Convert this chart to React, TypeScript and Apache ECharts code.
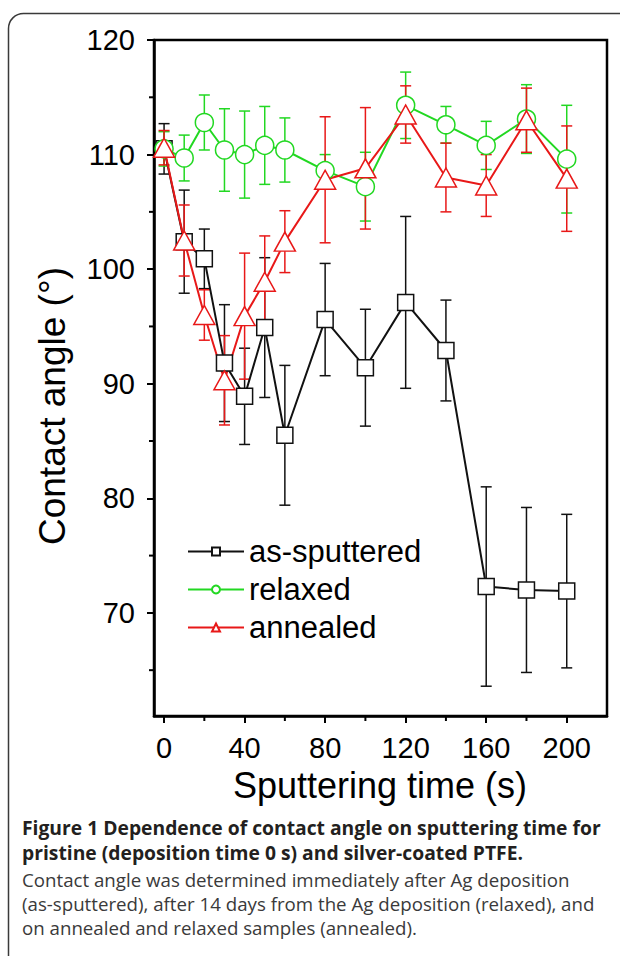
import React, { useEffect, useRef } from "react";
import * as echarts from "echarts";

const times = [0, 10, 20, 30, 40, 50, 60, 80, 100, 120, 140, 160, 180, 200];

const asSputtered = [110.5, 102.4, 100.9, 91.8, 88.9, 94.9, 85.5, 95.6, 91.4, 97.1, 92.9, 72.3, 72.0, 71.9];
const asSputteredErr = [2.2, 4.5, 2.6, 5.1, 4.2, 6.1, 6.1, 4.9, 5.1, 7.5, 4.4, 8.7, 7.2, 6.7];

const relaxed = [110.5, 109.7, 112.8, 110.4, 110.0, 110.8, 110.4, 108.6, 107.2, 114.3, 112.6, 110.8, 113.1, 109.6];
const relaxedErr = [1.5, 2.0, 2.4, 3.6, 3.8, 3.4, 2.8, 1.4, 3.0, 2.9, 1.6, 2.1, 3.0, 4.7];

const annealed = [110.6, 102.5, 96.0, 90.3, 95.9, 98.9, 102.4, 107.8, 108.8, 113.5, 108.0, 107.3, 113.0, 107.9];
const annealedErr = [1.5, 3.1, 2.2, 3.9, 5.5, 4.0, 2.7, 5.5, 5.3, 2.5, 3.0, 2.7, 2.8, 4.6];

const seriesNames = ["as-sputtered", "relaxed", "annealed"];

const X_MIN = -5;
const X_MAX = 220;
const Y_MIN = 61;
const Y_MAX = 120;
const xMajorTicks = [0, 40, 80, 120, 160, 200];
const xMinorTicks = [20, 60, 100, 140, 180];
const yMajorTicks = [70, 80, 90, 100, 110, 120];
const yMinorTicks = [65, 75, 85, 95, 105, 115];

const xTitle = "Sputtering time (s)";
const yTitle = "Contact angle (°)";

const captionBold = [
  "Figure 1 Dependence of contact angle on sputtering time for",
  "pristine (deposition time 0 s) and silver-coated PTFE.",
];
const captionBody = [
  "Contact angle was determined immediately after Ag deposition",
  "(as-sputtered), after 14 days from the Ag deposition (relaxed), and",
  "on annealed and relaxed samples (annealed).",
];

const FONT = "'Liberation Sans', Arial, sans-serif";
const CAP_FONT = "'Open Sans', 'Noto Sans', sans-serif";

function errorSeries(name: string, values: number[], errs: number[], color: string) {
  return {
    type: "custom",
    name: name + " error",
    xAxisIndex: 0,
    yAxisIndex: 0,
    silent: true,
    z: 1,
    data: times.map((t, i) => [t, values[i] - errs[i], values[i] + errs[i]]),
    encode: { x: 0, y: [1, 2] },
    renderItem: (params: any, api: any) => {
      const x = api.value(0);
      const lo = api.coord([x, api.value(1)]);
      const hi = api.coord([x, api.value(2)]);
      const w = 5.5;
      const st = { stroke: color, lineWidth: 1.5 };
      return {
        type: "group",
        children: [
          { type: "line", shape: { x1: lo[0], y1: lo[1], x2: hi[0], y2: hi[1] }, style: st },
          { type: "line", shape: { x1: lo[0] - w, y1: lo[1], x2: lo[0] + w, y2: lo[1] }, style: st },
          { type: "line", shape: { x1: hi[0] - w, y1: hi[1], x2: hi[0] + w, y2: hi[1] }, style: st },
        ],
      };
    },
  };
}

function minorTickSeries(axis: "x" | "y", values: number[]) {
  return {
    type: "custom",
    name: axis + " minor ticks",
    silent: true,
    clip: false,
    z: 5,
    data: values.map((v) => (axis === "x" ? [v, Y_MIN] : [X_MIN, v])),
    encode: { x: 0, y: 1 },
    renderItem: (params: any, api: any) => {
      const p = api.coord([api.value(0), api.value(1)]);
      const shape =
        axis === "x"
          ? { x1: p[0], y1: p[1], x2: p[0], y2: p[1] + 5 }
          : { x1: p[0] - 5, y1: p[1], x2: p[0], y2: p[1] };
      return { type: "line", shape, style: { stroke: "#000", lineWidth: 2 } };
    },
  };
}

function lineSeries(name: string, values: number[], color: string, symbol: string, size: any) {
  return {
    type: "line",
    name,
    xAxisIndex: 0,
    yAxisIndex: 0,
    z: 3,
    data: times.map((t, i) => [t, values[i]]),
    symbol,
    symbolSize: size,
    showAllSymbol: true,
    lineStyle: { color, width: 2 },
    itemStyle: { color: "#fff", borderColor: color, borderWidth: 1.5 },
  };
}

export default function App() {
  const ref = useRef<HTMLDivElement>(null);

  useEffect(() => {
    document.body.style.margin = "0";
    if (!ref.current) return;
    const chart = echarts.init(ref.current, null, { renderer: "svg" });
    const black = "#111";
    const green = "#22d822";
    const red = "#e81818";

    const graphics: any[] = [
      {
        type: "rect",
        shape: { x: 8.5, y: 13.5, width: 660, height: 1000, r: 15 },
        style: { fill: "none", stroke: "#3a3a3a", lineWidth: 1.5 },
        silent: true,
      },
      {
        type: "text",
        x: 52,
        y: 406,
        rotation: Math.PI / 2,
        style: { text: yTitle, fontSize: 37, fontFamily: FONT, fill: "#000", align: "center", verticalAlign: "middle" },
      },
      {
        type: "text",
        x: 380,
        y: 785,
        style: { text: xTitle, fontSize: 36, fontFamily: FONT, fill: "#000", align: "center", verticalAlign: "middle" },
      },
    ];
    captionBold.forEach((t, i) => {
      graphics.push({
        type: "text",
        x: 22,
        y: 827 + i * 25.5,
        style: { text: t, fontSize: 19.3, fontWeight: "bold", fontFamily: CAP_FONT, fill: "#231f20", align: "left", verticalAlign: "middle" },
      });
    });
    captionBody.forEach((t, i) => {
      graphics.push({
        type: "text",
        x: 22,
        y: 879 + i * 24,
        style: { text: t, fontSize: 18.7, fontFamily: CAP_FONT, fill: "#3a3a3a", align: "left", verticalAlign: "middle" },
      });
    });

    const option: any = {
      animation: false,
      backgroundColor: "#fff",
      grid: {
        left: 154,
        right: 13,
        top: 40,
        bottom: 240,
        show: true,
        borderColor: "#000",
        borderWidth: 2.5,
        containLabel: false,
        outerBoundsMode: "none",
      },
      legend: {
        data: seriesNames,
        orient: "vertical",
        left: 182,
        top: 531,
        itemWidth: 56,
        itemHeight: 10,
        itemGap: 7,
        selectedMode: false,
        textStyle: { fontSize: 31, fontFamily: FONT, color: "#000", lineHeight: 31 },
      },
      xAxis: {
        type: "value",
        min: X_MIN,
        max: X_MAX,
        axisLine: { show: true, onZero: false, lineStyle: { color: "#000", width: 2.5 } },
        axisTick: { show: true, customValues: xMajorTicks, length: 7, lineStyle: { color: "#000", width: 2 } },
        axisLabel: { customValues: xMajorTicks, fontSize: 29, fontFamily: FONT, color: "#000", margin: 17 },
        splitLine: { show: false },
      },
      yAxis: {
        type: "value",
        min: Y_MIN,
        max: Y_MAX,
        axisLine: { show: true, onZero: false, lineStyle: { color: "#000", width: 2.5 } },
        axisTick: { show: true, customValues: yMajorTicks, length: 7, lineStyle: { color: "#000", width: 2 } },
        axisLabel: { customValues: yMajorTicks, fontSize: 29, fontFamily: FONT, color: "#000", margin: 19 },
        splitLine: { show: false },
      },
      series: [
        minorTickSeries("x", xMinorTicks),
        minorTickSeries("y", yMinorTicks),
        errorSeries("as-sputtered", asSputtered, asSputteredErr, black),
        errorSeries("relaxed", relaxed, relaxedErr, green),
        errorSeries("annealed", annealed, annealedErr, red),
        lineSeries("as-sputtered", asSputtered, black, "rect", 16),
        lineSeries("relaxed", relaxed, green, "circle", 18),
        lineSeries("annealed", annealed, red, "triangle", [21, 19]),
      ],
      graphic: graphics,
    };
    chart.setOption(option);
    return () => chart.dispose();
  }, []);

  return <div ref={ref} style={{ width: 620, height: 956 }} />;
}
